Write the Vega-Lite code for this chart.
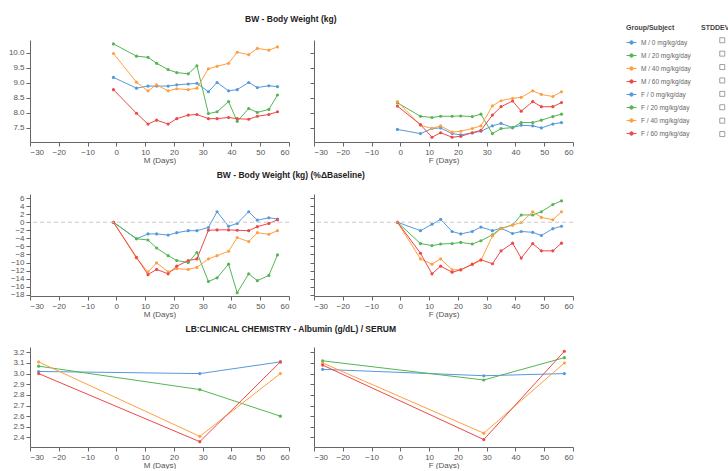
{
"$schema": "https://vega.github.io/schema/vega-lite/v6.json",
"padding": {"left": 8, "top": 14, "right": 0, "bottom": 0},
"datasets": {
"bw": [
{"g":"M / 0 mg/kg/day","d":-1,"v":9.18},{"g":"M / 0 mg/kg/day","d":7,"v":8.82},{"g":"M / 0 mg/kg/day","d":11,"v":8.89},{"g":"M / 0 mg/kg/day","d":14,"v":8.89},{"g":"M / 0 mg/kg/day","d":18,"v":8.89},{"g":"M / 0 mg/kg/day","d":21,"v":8.93},{"g":"M / 0 mg/kg/day","d":25,"v":8.96},{"g":"M / 0 mg/kg/day","d":28,"v":8.98},{"g":"M / 0 mg/kg/day","d":32,"v":8.70},{"g":"M / 0 mg/kg/day","d":35,"v":9.01},{"g":"M / 0 mg/kg/day","d":39,"v":8.73},{"g":"M / 0 mg/kg/day","d":42,"v":8.77},{"g":"M / 0 mg/kg/day","d":46,"v":9.01},{"g":"M / 0 mg/kg/day","d":49,"v":8.84},{"g":"M / 0 mg/kg/day","d":53,"v":8.90},{"g":"M / 0 mg/kg/day","d":56,"v":8.87},
{"g":"M / 20 mg/kg/day","d":-1,"v":10.30},{"g":"M / 20 mg/kg/day","d":7,"v":9.89},{"g":"M / 20 mg/kg/day","d":11,"v":9.85},{"g":"M / 20 mg/kg/day","d":14,"v":9.65},{"g":"M / 20 mg/kg/day","d":18,"v":9.44},{"g":"M / 20 mg/kg/day","d":21,"v":9.34},{"g":"M / 20 mg/kg/day","d":25,"v":9.30},{"g":"M / 20 mg/kg/day","d":28,"v":9.57},{"g":"M / 20 mg/kg/day","d":32,"v":7.97},{"g":"M / 20 mg/kg/day","d":35,"v":8.03},{"g":"M / 20 mg/kg/day","d":39,"v":8.37},{"g":"M / 20 mg/kg/day","d":42,"v":7.71},{"g":"M / 20 mg/kg/day","d":46,"v":8.14},{"g":"M / 20 mg/kg/day","d":49,"v":8.01},{"g":"M / 20 mg/kg/day","d":53,"v":8.11},{"g":"M / 20 mg/kg/day","d":56,"v":8.59},
{"g":"M / 40 mg/kg/day","d":-1,"v":9.98},{"g":"M / 40 mg/kg/day","d":7,"v":9.02},{"g":"M / 40 mg/kg/day","d":11,"v":8.73},{"g":"M / 40 mg/kg/day","d":14,"v":8.93},{"g":"M / 40 mg/kg/day","d":18,"v":8.73},{"g":"M / 40 mg/kg/day","d":21,"v":8.80},{"g":"M / 40 mg/kg/day","d":25,"v":8.77},{"g":"M / 40 mg/kg/day","d":28,"v":8.82},{"g":"M / 40 mg/kg/day","d":32,"v":9.47},{"g":"M / 40 mg/kg/day","d":35,"v":9.55},{"g":"M / 40 mg/kg/day","d":39,"v":9.65},{"g":"M / 40 mg/kg/day","d":42,"v":10.02},{"g":"M / 40 mg/kg/day","d":46,"v":9.94},{"g":"M / 40 mg/kg/day","d":49,"v":10.15},{"g":"M / 40 mg/kg/day","d":53,"v":10.09},{"g":"M / 40 mg/kg/day","d":56,"v":10.20},
{"g":"M / 60 mg/kg/day","d":-1,"v":8.77},{"g":"M / 60 mg/kg/day","d":7,"v":7.98},{"g":"M / 60 mg/kg/day","d":11,"v":7.62},{"g":"M / 60 mg/kg/day","d":14,"v":7.75},{"g":"M / 60 mg/kg/day","d":18,"v":7.62},{"g":"M / 60 mg/kg/day","d":21,"v":7.80},{"g":"M / 60 mg/kg/day","d":25,"v":7.92},{"g":"M / 60 mg/kg/day","d":28,"v":7.94},{"g":"M / 60 mg/kg/day","d":32,"v":7.80},{"g":"M / 60 mg/kg/day","d":35,"v":7.80},{"g":"M / 60 mg/kg/day","d":39,"v":7.84},{"g":"M / 60 mg/kg/day","d":42,"v":7.80},{"g":"M / 60 mg/kg/day","d":46,"v":7.78},{"g":"M / 60 mg/kg/day","d":49,"v":7.88},{"g":"M / 60 mg/kg/day","d":53,"v":7.94},{"g":"M / 60 mg/kg/day","d":56,"v":8.03},
{"g":"F / 0 mg/kg/day","d":-1,"v":7.44},{"g":"F / 0 mg/kg/day","d":7,"v":7.30},{"g":"F / 0 mg/kg/day","d":11,"v":7.47},{"g":"F / 0 mg/kg/day","d":14,"v":7.49},{"g":"F / 0 mg/kg/day","d":18,"v":7.30},{"g":"F / 0 mg/kg/day","d":21,"v":7.26},{"g":"F / 0 mg/kg/day","d":25,"v":7.32},{"g":"F / 0 mg/kg/day","d":28,"v":7.38},{"g":"F / 0 mg/kg/day","d":32,"v":7.56},{"g":"F / 0 mg/kg/day","d":35,"v":7.64},{"g":"F / 0 mg/kg/day","d":39,"v":7.50},{"g":"F / 0 mg/kg/day","d":42,"v":7.58},{"g":"F / 0 mg/kg/day","d":46,"v":7.56},{"g":"F / 0 mg/kg/day","d":49,"v":7.49},{"g":"F / 0 mg/kg/day","d":53,"v":7.62},{"g":"F / 0 mg/kg/day","d":56,"v":7.67},
{"g":"F / 20 mg/kg/day","d":-1,"v":8.33},{"g":"F / 20 mg/kg/day","d":7,"v":7.88},{"g":"F / 20 mg/kg/day","d":11,"v":7.84},{"g":"F / 20 mg/kg/day","d":14,"v":7.88},{"g":"F / 20 mg/kg/day","d":18,"v":7.88},{"g":"F / 20 mg/kg/day","d":21,"v":7.89},{"g":"F / 20 mg/kg/day","d":25,"v":7.87},{"g":"F / 20 mg/kg/day","d":28,"v":7.95},{"g":"F / 20 mg/kg/day","d":32,"v":7.30},{"g":"F / 20 mg/kg/day","d":35,"v":7.47},{"g":"F / 20 mg/kg/day","d":39,"v":7.50},{"g":"F / 20 mg/kg/day","d":42,"v":7.67},{"g":"F / 20 mg/kg/day","d":46,"v":7.67},{"g":"F / 20 mg/kg/day","d":49,"v":7.75},{"g":"F / 20 mg/kg/day","d":53,"v":7.87},{"g":"F / 20 mg/kg/day","d":56,"v":7.95},
{"g":"F / 40 mg/kg/day","d":-1,"v":8.37},{"g":"F / 40 mg/kg/day","d":7,"v":7.58},{"g":"F / 40 mg/kg/day","d":11,"v":7.47},{"g":"F / 40 mg/kg/day","d":14,"v":7.56},{"g":"F / 40 mg/kg/day","d":18,"v":7.35},{"g":"F / 40 mg/kg/day","d":21,"v":7.38},{"g":"F / 40 mg/kg/day","d":25,"v":7.47},{"g":"F / 40 mg/kg/day","d":28,"v":7.56},{"g":"F / 40 mg/kg/day","d":32,"v":8.23},{"g":"F / 40 mg/kg/day","d":35,"v":8.40},{"g":"F / 40 mg/kg/day","d":39,"v":8.48},{"g":"F / 40 mg/kg/day","d":42,"v":8.51},{"g":"F / 40 mg/kg/day","d":46,"v":8.73},{"g":"F / 40 mg/kg/day","d":49,"v":8.61},{"g":"F / 40 mg/kg/day","d":53,"v":8.54},{"g":"F / 40 mg/kg/day","d":56,"v":8.70},
{"g":"F / 60 mg/kg/day","d":-1,"v":8.22},{"g":"F / 60 mg/kg/day","d":7,"v":7.60},{"g":"F / 60 mg/kg/day","d":11,"v":7.18},{"g":"F / 60 mg/kg/day","d":14,"v":7.33},{"g":"F / 60 mg/kg/day","d":18,"v":7.18},{"g":"F / 60 mg/kg/day","d":21,"v":7.21},{"g":"F / 60 mg/kg/day","d":25,"v":7.33},{"g":"F / 60 mg/kg/day","d":28,"v":7.41},{"g":"F / 60 mg/kg/day","d":32,"v":7.92},{"g":"F / 60 mg/kg/day","d":35,"v":8.20},{"g":"F / 60 mg/kg/day","d":39,"v":8.39},{"g":"F / 60 mg/kg/day","d":42,"v":8.05},{"g":"F / 60 mg/kg/day","d":46,"v":8.37},{"g":"F / 60 mg/kg/day","d":49,"v":8.20},{"g":"F / 60 mg/kg/day","d":53,"v":8.20},{"g":"F / 60 mg/kg/day","d":56,"v":8.34}
],
"pct": [
{"g":"M / 0 mg/kg/day","d":-1,"v":0},{"g":"M / 0 mg/kg/day","d":7,"v":-4.1},{"g":"M / 0 mg/kg/day","d":11,"v":-2.9},{"g":"M / 0 mg/kg/day","d":14,"v":-2.9},{"g":"M / 0 mg/kg/day","d":18,"v":-3.2},{"g":"M / 0 mg/kg/day","d":21,"v":-2.6},{"g":"M / 0 mg/kg/day","d":25,"v":-2.1},{"g":"M / 0 mg/kg/day","d":28,"v":-2.1},{"g":"M / 0 mg/kg/day","d":32,"v":-1.3},{"g":"M / 0 mg/kg/day","d":35,"v":2.6},{"g":"M / 0 mg/kg/day","d":39,"v":-1.0},{"g":"M / 0 mg/kg/day","d":42,"v":-0.3},{"g":"M / 0 mg/kg/day","d":46,"v":2.6},{"g":"M / 0 mg/kg/day","d":49,"v":0.5},{"g":"M / 0 mg/kg/day","d":53,"v":1.1},{"g":"M / 0 mg/kg/day","d":56,"v":0.8},
{"g":"M / 20 mg/kg/day","d":-1,"v":0},{"g":"M / 20 mg/kg/day","d":7,"v":-4.1},{"g":"M / 20 mg/kg/day","d":11,"v":-4.4},{"g":"M / 20 mg/kg/day","d":14,"v":-6.4},{"g":"M / 20 mg/kg/day","d":18,"v":-8.3},{"g":"M / 20 mg/kg/day","d":21,"v":-9.5},{"g":"M / 20 mg/kg/day","d":25,"v":-10.0},{"g":"M / 20 mg/kg/day","d":28,"v":-7.5},{"g":"M / 20 mg/kg/day","d":32,"v":-14.7},{"g":"M / 20 mg/kg/day","d":35,"v":-13.8},{"g":"M / 20 mg/kg/day","d":39,"v":-10.4},{"g":"M / 20 mg/kg/day","d":42,"v":-17.5},{"g":"M / 20 mg/kg/day","d":46,"v":-12.8},{"g":"M / 20 mg/kg/day","d":49,"v":-14.5},{"g":"M / 20 mg/kg/day","d":53,"v":-13.2},{"g":"M / 20 mg/kg/day","d":56,"v":-8.1},
{"g":"M / 40 mg/kg/day","d":-1,"v":0},{"g":"M / 40 mg/kg/day","d":7,"v":-8.9},{"g":"M / 40 mg/kg/day","d":11,"v":-12.3},{"g":"M / 40 mg/kg/day","d":14,"v":-10.1},{"g":"M / 40 mg/kg/day","d":18,"v":-12.3},{"g":"M / 40 mg/kg/day","d":21,"v":-11.5},{"g":"M / 40 mg/kg/day","d":25,"v":-11.7},{"g":"M / 40 mg/kg/day","d":28,"v":-11.2},{"g":"M / 40 mg/kg/day","d":32,"v":-9.1},{"g":"M / 40 mg/kg/day","d":35,"v":-8.3},{"g":"M / 40 mg/kg/day","d":39,"v":-7.2},{"g":"M / 40 mg/kg/day","d":42,"v":-3.8},{"g":"M / 40 mg/kg/day","d":46,"v":-4.8},{"g":"M / 40 mg/kg/day","d":49,"v":-2.6},{"g":"M / 40 mg/kg/day","d":53,"v":-3.0},{"g":"M / 40 mg/kg/day","d":56,"v":-2.1},
{"g":"M / 60 mg/kg/day","d":-1,"v":0},{"g":"M / 60 mg/kg/day","d":7,"v":-8.7},{"g":"M / 60 mg/kg/day","d":11,"v":-13.0},{"g":"M / 60 mg/kg/day","d":14,"v":-11.7},{"g":"M / 60 mg/kg/day","d":18,"v":-12.8},{"g":"M / 60 mg/kg/day","d":21,"v":-10.9},{"g":"M / 60 mg/kg/day","d":25,"v":-9.5},{"g":"M / 60 mg/kg/day","d":28,"v":-9.1},{"g":"M / 60 mg/kg/day","d":32,"v":-2.0},{"g":"M / 60 mg/kg/day","d":35,"v":-1.9},{"g":"M / 60 mg/kg/day","d":39,"v":-1.9},{"g":"M / 60 mg/kg/day","d":42,"v":-2.0},{"g":"M / 60 mg/kg/day","d":46,"v":-2.1},{"g":"M / 60 mg/kg/day","d":49,"v":-1.1},{"g":"M / 60 mg/kg/day","d":53,"v":-0.3},{"g":"M / 60 mg/kg/day","d":56,"v":0.6},
{"g":"F / 0 mg/kg/day","d":-1,"v":0},{"g":"F / 0 mg/kg/day","d":7,"v":-2.1},{"g":"F / 0 mg/kg/day","d":11,"v":-0.5},{"g":"F / 0 mg/kg/day","d":14,"v":0.7},{"g":"F / 0 mg/kg/day","d":18,"v":-2.3},{"g":"F / 0 mg/kg/day","d":21,"v":-2.9},{"g":"F / 0 mg/kg/day","d":25,"v":-2.3},{"g":"F / 0 mg/kg/day","d":28,"v":-1.2},{"g":"F / 0 mg/kg/day","d":32,"v":-2.1},{"g":"F / 0 mg/kg/day","d":35,"v":-1.5},{"g":"F / 0 mg/kg/day","d":39,"v":-2.8},{"g":"F / 0 mg/kg/day","d":42,"v":-2.3},{"g":"F / 0 mg/kg/day","d":46,"v":-2.5},{"g":"F / 0 mg/kg/day","d":49,"v":-3.3},{"g":"F / 0 mg/kg/day","d":53,"v":-1.6},{"g":"F / 0 mg/kg/day","d":56,"v":-1.0},
{"g":"F / 20 mg/kg/day","d":-1,"v":0},{"g":"F / 20 mg/kg/day","d":7,"v":-5.3},{"g":"F / 20 mg/kg/day","d":11,"v":-5.8},{"g":"F / 20 mg/kg/day","d":14,"v":-5.4},{"g":"F / 20 mg/kg/day","d":18,"v":-5.3},{"g":"F / 20 mg/kg/day","d":21,"v":-5.0},{"g":"F / 20 mg/kg/day","d":25,"v":-5.4},{"g":"F / 20 mg/kg/day","d":28,"v":-4.6},{"g":"F / 20 mg/kg/day","d":32,"v":-3.1},{"g":"F / 20 mg/kg/day","d":35,"v":-1.5},{"g":"F / 20 mg/kg/day","d":39,"v":-0.7},{"g":"F / 20 mg/kg/day","d":42,"v":1.8},{"g":"F / 20 mg/kg/day","d":46,"v":1.8},{"g":"F / 20 mg/kg/day","d":49,"v":2.6},{"g":"F / 20 mg/kg/day","d":53,"v":4.4},{"g":"F / 20 mg/kg/day","d":56,"v":5.3},
{"g":"F / 40 mg/kg/day","d":-1,"v":0},{"g":"F / 40 mg/kg/day","d":7,"v":-9.1},{"g":"F / 40 mg/kg/day","d":11,"v":-10.4},{"g":"F / 40 mg/kg/day","d":14,"v":-9.1},{"g":"F / 40 mg/kg/day","d":18,"v":-11.8},{"g":"F / 40 mg/kg/day","d":21,"v":-11.8},{"g":"F / 40 mg/kg/day","d":25,"v":-10.5},{"g":"F / 40 mg/kg/day","d":28,"v":-9.5},{"g":"F / 40 mg/kg/day","d":32,"v":-3.4},{"g":"F / 40 mg/kg/day","d":35,"v":-1.6},{"g":"F / 40 mg/kg/day","d":39,"v":-0.7},{"g":"F / 40 mg/kg/day","d":42,"v":-0.1},{"g":"F / 40 mg/kg/day","d":46,"v":2.6},{"g":"F / 40 mg/kg/day","d":49,"v":1.2},{"g":"F / 40 mg/kg/day","d":53,"v":0.6},{"g":"F / 40 mg/kg/day","d":56,"v":2.6},
{"g":"F / 60 mg/kg/day","d":-1,"v":0},{"g":"F / 60 mg/kg/day","d":7,"v":-7.7},{"g":"F / 60 mg/kg/day","d":11,"v":-12.8},{"g":"F / 60 mg/kg/day","d":14,"v":-10.9},{"g":"F / 60 mg/kg/day","d":18,"v":-12.4},{"g":"F / 60 mg/kg/day","d":21,"v":-11.8},{"g":"F / 60 mg/kg/day","d":25,"v":-10.4},{"g":"F / 60 mg/kg/day","d":28,"v":-9.3},{"g":"F / 60 mg/kg/day","d":32,"v":-10.3},{"g":"F / 60 mg/kg/day","d":35,"v":-7.1},{"g":"F / 60 mg/kg/day","d":39,"v":-5.2},{"g":"F / 60 mg/kg/day","d":42,"v":-8.9},{"g":"F / 60 mg/kg/day","d":46,"v":-5.3},{"g":"F / 60 mg/kg/day","d":49,"v":-7.1},{"g":"F / 60 mg/kg/day","d":53,"v":-7.1},{"g":"F / 60 mg/kg/day","d":56,"v":-5.2}
],
"alb": [
{"g":"M / 0 mg/kg/day","d":-27,"v":3.02},{"g":"M / 0 mg/kg/day","d":29,"v":3.00},{"g":"M / 0 mg/kg/day","d":57,"v":3.11},
{"g":"M / 20 mg/kg/day","d":-27,"v":3.07},{"g":"M / 20 mg/kg/day","d":29,"v":2.85},{"g":"M / 20 mg/kg/day","d":57,"v":2.60},
{"g":"M / 40 mg/kg/day","d":-27,"v":3.11},{"g":"M / 40 mg/kg/day","d":29,"v":2.41},{"g":"M / 40 mg/kg/day","d":57,"v":3.00},
{"g":"M / 60 mg/kg/day","d":-27,"v":3.00},{"g":"M / 60 mg/kg/day","d":29,"v":2.36},{"g":"M / 60 mg/kg/day","d":57,"v":3.11},
{"g":"F / 0 mg/kg/day","d":-27,"v":3.04},{"g":"F / 0 mg/kg/day","d":29,"v":2.98},{"g":"F / 0 mg/kg/day","d":57,"v":3.00},
{"g":"F / 20 mg/kg/day","d":-27,"v":3.12},{"g":"F / 20 mg/kg/day","d":29,"v":2.94},{"g":"F / 20 mg/kg/day","d":57,"v":3.15},
{"g":"F / 40 mg/kg/day","d":-27,"v":3.10},{"g":"F / 40 mg/kg/day","d":29,"v":2.44},{"g":"F / 40 mg/kg/day","d":57,"v":3.10},
{"g":"F / 60 mg/kg/day","d":-27,"v":3.08},{"g":"F / 60 mg/kg/day","d":29,"v":2.38},{"g":"F / 60 mg/kg/day","d":57,"v":3.21}
],
"sd": [
{"k":"sd1"},{"k":"sd2"},{"k":"sd3"},{"k":"sd4"},{"k":"sd5"},{"k":"sd6"},{"k":"sd7"},{"k":"sd8"}
]
},
"vconcat": [
{
"title": {"text": "BW - Body Weight (kg)", "offset": 17},
"spacing": 25, "bounds": "flush",
"hconcat": [
{"width": 259, "height": 102,
 "layer": [
  {"data": {"name": "bw"}, "transform": [{"filter": "substring(datum.g,0,1)=='M'"}],
   "encoding": {
    "x": {"field": "d", "type": "quantitative", "scale": {"domain": [-30, 60], "nice": false}, "axis": {"title": "M (Days)", "values": [-30,-20,-10,0,10,20,30,40,50,60]}},
    "y": {"field": "v", "type": "quantitative", "scale": {"domain": [7.02, 10.43], "nice": false, "zero": false}, "axis": {"title": null, "labelOverlap": false, "values": [7.5,8,8.5,9,9.5,10], "format": ".1f", "minExtent": 22, "maxExtent": 22}},
    "color": {"field": "g", "type": "nominal", "scale": {"domain": ["M / 0 mg/kg/day","M / 20 mg/kg/day","M / 40 mg/kg/day","M / 60 mg/kg/day","F / 0 mg/kg/day","F / 20 mg/kg/day","F / 40 mg/kg/day","F / 60 mg/kg/day"], "range": ["#5599DD","#55B555","#FFA040","#EE4848","#5599DD","#55B555","#FFA040","#EE4848"]}, "legend": {"title": "Group/Subject", "orient": "none", "legendX": 596, "legendY": -16, "symbolType": "M-1,0H1M-0.35,0A0.35,0.35,0,1,1,0.35,0A0.35,0.35,0,1,1,-0.35,0Z", "symbolSize": 100, "symbolStrokeWidth": 1, "encode": {"symbols": {"update": {"fill": {"scale": "color", "field": "value"}, "stroke": {"scale": "color", "field": "value"}}}}}}
   },
   "layer": [
    {"mark": {"type": "line", "strokeWidth": 1}},
    {"mark": {"type": "point", "filled": true, "size": 10, "opacity": 1}}
   ]},
  {"data": {"name": "sd"},
   "mark": {"type": "point", "opacity": 0, "filled": false, "color": "#888", "size": 25},
   "encoding": {"shape": {"field": "k", "type": "nominal", "scale": {"domain": ["sd1","sd2","sd3","sd4","sd5","sd6","sd7","sd8"], "range": ["square","square","square","square","square","square","square","square"]}, "legend": {"title": "STDDEV", "orient": "none", "legendX": 671, "legendY": -16, "labelExpr": "''", "symbolSize": 25, "rowPadding": 4.4, "symbolOffset": 18, "symbolOpacity": 1, "symbolStrokeColor": "#888", "symbolFillColor": "#fff", "symbolStrokeWidth": 0.8}}}}
 ]},
{"width": 259, "height": 102,
 "data": {"name": "bw"}, "transform": [{"filter": "substring(datum.g,0,1)=='F'"}],
 "encoding": {
  "x": {"field": "d", "type": "quantitative", "scale": {"domain": [-30, 60], "nice": false}, "axis": {"title": "F (Days)", "values": [-30,-20,-10,0,10,20,30,40,50,60]}},
  "y": {"field": "v", "type": "quantitative", "scale": {"domain": [7.02, 10.43], "nice": false, "zero": false}, "axis": {"title": null, "labels": false, "values": [7.5,8,8.5,9,9.5,10], "minExtent": 4, "maxExtent": 4}},
  "color": {"field": "g", "type": "nominal", "legend": {"title": "Group/Subject", "orient": "none", "legendX": 596, "legendY": -16, "symbolType": "M-1,0H1M-0.35,0A0.35,0.35,0,1,1,0.35,0A0.35,0.35,0,1,1,-0.35,0Z", "symbolSize": 100, "symbolStrokeWidth": 1, "encode": {"symbols": {"update": {"fill": {"scale": "color", "field": "value"}, "stroke": {"scale": "color", "field": "value"}}}}}}
 },
 "layer": [
  {"mark": {"type": "line", "strokeWidth": 1}},
  {"mark": {"type": "point", "filled": true, "size": 10, "opacity": 1}}
 ]}
]
},
{
"title": {"text": "BW - Body Weight (kg) (%ΔBaseline)", "offset": 15},
"spacing": 25, "bounds": "flush",
"hconcat": [
{"width": 259, "height": 102,
 "data": {"name": "pct"},
 "encoding": {
  "y": {"field": "v", "type": "quantitative", "scale": {"domain": [-18.3, 7], "nice": false, "zero": false}, "axis": {"title": null, "labelOverlap": false, "values": [-18,-16,-14,-12,-10,-8,-6,-4,-2,0,2,4,6], "minExtent": 22, "maxExtent": 22}}
 },
 "layer": [
  {"transform": [{"filter": "substring(datum.g,0,1)=='M'"}],
   "encoding": {
    "x": {"field": "d", "type": "quantitative", "scale": {"domain": [-30, 60], "nice": false}, "axis": {"title": "M (Days)", "values": [-30,-20,-10,0,10,20,30,40,50,60]}},
    "color": {"field": "g", "type": "nominal", "legend": {"title": "Group/Subject", "orient": "none", "legendX": 596, "legendY": -16, "symbolType": "M-1,0H1M-0.35,0A0.35,0.35,0,1,1,0.35,0A0.35,0.35,0,1,1,-0.35,0Z", "symbolSize": 100, "symbolStrokeWidth": 1, "encode": {"symbols": {"update": {"fill": {"scale": "color", "field": "value"}, "stroke": {"scale": "color", "field": "value"}}}}}}
   },
   "layer": [
    {"mark": {"type": "line", "strokeWidth": 1}},
    {"mark": {"type": "point", "filled": true, "size": 10, "opacity": 1}}
   ]},
  {"transform": [{"filter": "datum.d == -1 && datum.g == 'M / 0 mg/kg/day'"}],
   "mark": {"type": "rule", "strokeDash": [4, 3], "color": "#c8c8c8", "strokeWidth": 1},
   "encoding": {"y": {"datum": 0, "type": "quantitative"}}}
 ]},
{"width": 259, "height": 102,
 "data": {"name": "pct"},
 "encoding": {
  "y": {"field": "v", "type": "quantitative", "scale": {"domain": [-18.3, 7], "nice": false, "zero": false}, "axis": {"title": null, "labels": false, "values": [-18,-16,-14,-12,-10,-8,-6,-4,-2,0,2,4,6], "minExtent": 4, "maxExtent": 4}}
 },
 "layer": [
  {"transform": [{"filter": "substring(datum.g,0,1)=='F'"}],
   "encoding": {
    "x": {"field": "d", "type": "quantitative", "scale": {"domain": [-30, 60], "nice": false}, "axis": {"title": "F (Days)", "values": [-30,-20,-10,0,10,20,30,40,50,60]}},
    "color": {"field": "g", "type": "nominal", "legend": {"title": "Group/Subject", "orient": "none", "legendX": 596, "legendY": -16, "symbolType": "M-1,0H1M-0.35,0A0.35,0.35,0,1,1,0.35,0A0.35,0.35,0,1,1,-0.35,0Z", "symbolSize": 100, "symbolStrokeWidth": 1, "encode": {"symbols": {"update": {"fill": {"scale": "color", "field": "value"}, "stroke": {"scale": "color", "field": "value"}}}}}}
   },
   "layer": [
    {"mark": {"type": "line", "strokeWidth": 1}},
    {"mark": {"type": "point", "filled": true, "size": 10, "opacity": 1}}
   ]},
  {"transform": [{"filter": "datum.d == -1 && datum.g == 'F / 0 mg/kg/day'"}],
   "mark": {"type": "rule", "strokeDash": [4, 3], "color": "#c8c8c8", "strokeWidth": 1},
   "encoding": {"y": {"datum": 0, "type": "quantitative"}}}
 ]}
]
},
{
"title": {"text": "LB:CLINICAL CHEMISTRY - Albumin (g/dL) / SERUM", "offset": 14},
"spacing": 25, "bounds": "flush",
"hconcat": [
{"width": 259, "height": 100,
 "data": {"name": "alb"}, "transform": [{"filter": "substring(datum.g,0,1)=='M'"}],
 "encoding": {
  "x": {"field": "d", "type": "quantitative", "scale": {"domain": [-30, 60], "nice": false}, "axis": {"title": "M (Days)", "values": [-30,-20,-10,0,10,20,30,40,50,60]}},
  "y": {"field": "v", "type": "quantitative", "scale": {"domain": [2.31, 3.25], "nice": false, "zero": false}, "axis": {"title": null, "labelOverlap": false, "values": [2.4,2.5,2.6,2.7,2.8,2.9,3.0,3.1,3.2], "format": ".1f", "minExtent": 22, "maxExtent": 22}},
  "color": {"field": "g", "type": "nominal", "legend": {"title": "Group/Subject", "orient": "none", "legendX": 596, "legendY": -16, "symbolType": "M-1,0H1M-0.35,0A0.35,0.35,0,1,1,0.35,0A0.35,0.35,0,1,1,-0.35,0Z", "symbolSize": 100, "symbolStrokeWidth": 1, "encode": {"symbols": {"update": {"fill": {"scale": "color", "field": "value"}, "stroke": {"scale": "color", "field": "value"}}}}}}
 },
 "layer": [
  {"mark": {"type": "line", "strokeWidth": 1}},
  {"mark": {"type": "point", "filled": true, "size": 10, "opacity": 1}}
 ]},
{"width": 259, "height": 100,
 "data": {"name": "alb"}, "transform": [{"filter": "substring(datum.g,0,1)=='F'"}],
 "encoding": {
  "x": {"field": "d", "type": "quantitative", "scale": {"domain": [-30, 60], "nice": false}, "axis": {"title": "F (Days)", "values": [-30,-20,-10,0,10,20,30,40,50,60]}},
  "y": {"field": "v", "type": "quantitative", "scale": {"domain": [2.31, 3.25], "nice": false, "zero": false}, "axis": {"title": null, "labels": false, "values": [2.4,2.5,2.6,2.7,2.8,2.9,3.0,3.1,3.2], "minExtent": 4, "maxExtent": 4}},
  "color": {"field": "g", "type": "nominal", "legend": {"title": "Group/Subject", "orient": "none", "legendX": 596, "legendY": -16, "symbolType": "M-1,0H1M-0.35,0A0.35,0.35,0,1,1,0.35,0A0.35,0.35,0,1,1,-0.35,0Z", "symbolSize": 100, "symbolStrokeWidth": 1, "encode": {"symbols": {"update": {"fill": {"scale": "color", "field": "value"}, "stroke": {"scale": "color", "field": "value"}}}}}}
 },
 "layer": [
  {"mark": {"type": "line", "strokeWidth": 1}},
  {"mark": {"type": "point", "filled": true, "size": 10, "opacity": 1}}
 ]}
]
}
],
"spacing": 6,
"config": {
 "view": {"stroke": null},
 "font": "Liberation Sans",
 "axis": {"labelFontSize": 8, "labelColor": "#555", "domainColor": "#666", "tickColor": "#666", "tickSize": 4, "grid": false, "titleFontSize": 8, "titleFontWeight": "normal", "titleColor": "#555", "labelPadding": 2, "titlePadding": 0, "labelOverlap": false},
 "title": {"fontSize": 8.5, "fontWeight": "bold", "color": "#222", "anchor": "middle"},
 "legend": {"padding": 0, "titleFontSize": 7, "titleColor": "#444", "labelFontSize": 6.5, "labelColor": "#666", "rowPadding": 3, "titlePadding": 6}
}
}
